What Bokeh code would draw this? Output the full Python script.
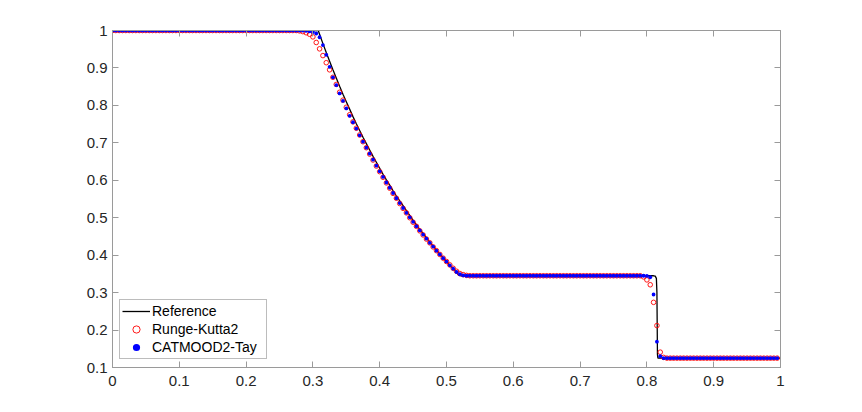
import numpy as np
from bokeh.plotting import figure
from bokeh.models import Range1d, FixedTicker, LinearAxis, Legend, LegendItem
from bokeh.embed import file_html
from bokeh.resources import INLINE

# ---------------- data ----------------
x_grid = np.linspace(0.0, 0.995, 200)   # 200 cells, dx = 0.005

rk2 = [
    1.0, 1.0, 1.0, 1.0, 1.0, 1.0, 1.0, 1.0, 1.0, 1.0,
    1.0, 1.0, 1.0, 1.0, 1.0, 1.0, 1.0, 1.0, 1.0, 1.0,
    1.0, 1.0, 1.0, 1.0, 1.0, 1.0, 1.0, 1.0, 1.0, 1.0,
    1.0, 1.0, 1.0, 1.0, 1.0, 1.0, 1.0, 1.0, 1.0, 1.0,
    1.0, 1.0, 1.0, 1.0, 1.0, 1.0, 1.0, 1.0, 1.0, 1.0,
    1.0, 1.0, 1.0, 1.0, 1.0, 1.0, 0.999, 0.997, 0.994, 0.990,
    0.983, 0.968, 0.951, 0.933, 0.914, 0.895, 0.875, 0.856, 0.835, 0.814,
    0.795, 0.775, 0.756, 0.739, 0.721, 0.703, 0.687, 0.670, 0.654, 0.638,
    0.623, 0.608, 0.593, 0.579, 0.565, 0.552, 0.538, 0.525, 0.513, 0.500,
    0.488, 0.477, 0.465, 0.454, 0.443, 0.433, 0.422, 0.412, 0.402, 0.392,
    0.383, 0.374, 0.365, 0.357, 0.351, 0.348, 0.346, 0.345, 0.345, 0.345,
    0.345, 0.345, 0.345, 0.345, 0.345, 0.345, 0.345, 0.345, 0.345, 0.345,
    0.345, 0.345, 0.345, 0.345, 0.345, 0.345, 0.345, 0.345, 0.345, 0.345,
    0.345, 0.345, 0.345, 0.345, 0.345, 0.345, 0.345, 0.345, 0.345, 0.345,
    0.345, 0.345, 0.345, 0.345, 0.345, 0.345, 0.345, 0.345, 0.345, 0.345,
    0.345, 0.345, 0.345, 0.345, 0.345, 0.345, 0.345, 0.345, 0.345, 0.342,
    0.334, 0.321, 0.274, 0.212, 0.141, 0.127, 0.125, 0.125, 0.125, 0.125,
    0.125, 0.125, 0.125, 0.125, 0.125, 0.125, 0.125, 0.125, 0.125, 0.125,
    0.125, 0.125, 0.125, 0.125, 0.125, 0.125, 0.125, 0.125, 0.125, 0.125,
    0.125, 0.125, 0.125, 0.125, 0.125, 0.125, 0.125, 0.125, 0.125, 0.125,
]

catmood = [
    1.0, 1.0, 1.0, 1.0, 1.0, 1.0, 1.0, 1.0, 1.0, 1.0,
    1.0, 1.0, 1.0, 1.0, 1.0, 1.0, 1.0, 1.0, 1.0, 1.0,
    1.0, 1.0, 1.0, 1.0, 1.0, 1.0, 1.0, 1.0, 1.0, 1.0,
    1.0, 1.0, 1.0, 1.0, 1.0, 1.0, 1.0, 1.0, 1.0, 1.0,
    1.0, 1.0, 1.0, 1.0, 1.0, 1.0, 1.0, 1.0, 1.0, 1.0,
    1.0, 1.0, 1.0, 1.0, 1.0, 1.0, 1.0, 1.0, 0.999, 0.998,
    0.996, 0.992, 0.982, 0.961, 0.935, 0.903, 0.875, 0.854, 0.832, 0.812,
    0.792, 0.772, 0.755, 0.738, 0.720, 0.703, 0.687, 0.671, 0.655, 0.639,
    0.624, 0.609, 0.594, 0.580, 0.566, 0.552, 0.539, 0.526, 0.513, 0.501,
    0.489, 0.477, 0.466, 0.455, 0.444, 0.433, 0.423, 0.412, 0.402, 0.392,
    0.383, 0.373, 0.364, 0.355, 0.349, 0.346, 0.345, 0.345, 0.345, 0.345,
    0.345, 0.345, 0.345, 0.345, 0.345, 0.345, 0.345, 0.345, 0.345, 0.345,
    0.345, 0.345, 0.345, 0.345, 0.345, 0.345, 0.345, 0.345, 0.345, 0.345,
    0.345, 0.345, 0.345, 0.345, 0.345, 0.345, 0.345, 0.345, 0.345, 0.345,
    0.345, 0.345, 0.345, 0.345, 0.345, 0.345, 0.345, 0.345, 0.345, 0.345,
    0.345, 0.345, 0.345, 0.345, 0.345, 0.345, 0.345, 0.345, 0.345, 0.345,
    0.3445, 0.341, 0.295, 0.169, 0.130, 0.125, 0.125, 0.125, 0.125, 0.125,
    0.125, 0.125, 0.125, 0.125, 0.125, 0.125, 0.125, 0.125, 0.125, 0.125,
    0.125, 0.125, 0.125, 0.125, 0.125, 0.125, 0.125, 0.125, 0.125, 0.125,
    0.125, 0.125, 0.125, 0.125, 0.125, 0.125, 0.125, 0.125, 0.125, 0.125,
]

ref_x = [0.0, 0.308,
         0.310, 0.315, 0.320, 0.325, 0.330, 0.335, 0.340, 0.345, 0.350, 0.355,
         0.360, 0.365, 0.370, 0.375, 0.380, 0.385, 0.390, 0.395, 0.400, 0.405,
         0.410, 0.415, 0.420, 0.425, 0.430, 0.435, 0.440, 0.445, 0.450, 0.455,
         0.460, 0.465, 0.470, 0.475, 0.480, 0.485, 0.490, 0.495, 0.500, 0.505,
         0.510, 0.515, 0.518, 0.522,
         0.810, 0.8125, 0.8142, 0.8150, 0.8158, 0.8165, 1.0]
ref_y = [1.0, 1.0,
         0.990, 0.965, 0.941, 0.918, 0.895, 0.873, 0.851, 0.830, 0.810, 0.790,
         0.770, 0.751, 0.733, 0.715, 0.698, 0.681, 0.664, 0.648, 0.632, 0.616,
         0.601, 0.587, 0.572, 0.558, 0.545, 0.532, 0.519, 0.506, 0.493, 0.481,
         0.469, 0.458, 0.446, 0.435, 0.424, 0.414, 0.403, 0.393, 0.383, 0.373,
         0.364, 0.354, 0.347, 0.345,
         0.345, 0.344, 0.338, 0.300, 0.135, 0.125, 0.125]

x_ticks = [0.0, 0.1, 0.2, 0.3, 0.4, 0.5, 0.6, 0.7, 0.8, 0.9, 1.0]
x_labels = ["0", "0.1", "0.2", "0.3", "0.4", "0.5", "0.6", "0.7", "0.8", "0.9", "1"]
y_ticks = [0.1, 0.2, 0.3, 0.4, 0.5, 0.6, 0.7, 0.8, 0.9, 1.0]
y_labels = ["0.1", "0.2", "0.3", "0.4", "0.5", "0.6", "0.7", "0.8", "0.9", "1"]

series_labels = ["Reference", "Runge-Kutta2", "CATMOOD2-Tay"]

# ---------------- figure ----------------
FONT = "Liberation Sans"
AXIS_COLOR = "#9a9a9a"
TEXT_COLOR = "#262626"

p = figure(width=846, height=396,
           x_range=Range1d(0, 1), y_range=Range1d(0.1, 1),
           output_backend="svg", toolbar_location=None,
           min_border_left=112, min_border_right=66,
           min_border_top=30, min_border_bottom=29)
p.grid.visible = False
p.outline_line_color = AXIS_COLOR
p.background_fill_color = "white"
p.border_fill_color = "white"

r_ref = p.line(ref_x, ref_y, line_color="black", line_width=1.3)
r_rk = p.scatter(x_grid, rk2, marker="circle", size=4.6, fill_color=None,
                 line_color="#ff0000", line_width=0.9)
r_cm = p.scatter(x_grid, catmood, marker="circle", size=3.8, fill_color="#0000ff",
                 line_color=None)


def style_axis(ax, ticks, labels, show_labels):
    ax.ticker = FixedTicker(ticks=ticks)
    ax.major_tick_in = 6
    ax.major_tick_out = 0
    ax.minor_tick_line_color = None
    ax.axis_line_color = AXIS_COLOR
    ax.major_tick_line_color = AXIS_COLOR
    ax.axis_line_width = 1
    ax.major_tick_line_width = 1
    if show_labels:
        ax.major_label_overrides = {t: l for t, l in zip(ticks, labels)}
        ax.major_label_text_font = FONT
        ax.major_label_text_font_size = "15px"
        ax.major_label_text_color = TEXT_COLOR
    else:
        ax.major_label_overrides = {t: "" for t in ticks}
        ax.major_label_text_font_size = "0px"
        ax.major_label_standoff = 0


style_axis(p.xaxis[0], x_ticks, x_labels, True)
p.xaxis[0].major_label_standoff = 8
style_axis(p.yaxis[0], y_ticks, y_labels, True)
p.yaxis[0].major_label_standoff = 5

top_ax = LinearAxis()
style_axis(top_ax, x_ticks, x_labels, False)
p.add_layout(top_ax, "above")
right_ax = LinearAxis()
style_axis(right_ax, y_ticks, y_labels, False)
p.add_layout(right_ax, "right")

legend = Legend(items=[LegendItem(label=series_labels[0], renderers=[r_ref]),
                       LegendItem(label=series_labels[1], renderers=[r_rk]),
                       LegendItem(label=series_labels[2], renderers=[r_cm])],
                location=(7, 8))
legend.label_text_font = FONT
legend.label_text_font_size = "14px"
legend.label_text_color = "black"
legend.glyph_width = 28
legend.glyph_height = 18
legend.label_height = 18
legend.label_width = 112
legend.label_standoff = 2
legend.spacing = 0
legend.padding = 2
legend.margin = 0
legend.border_line_color = "#7a7a7a"
legend.border_line_width = 1
legend.background_fill_color = "white"
legend.background_fill_alpha = 1.0
p.add_layout(legend)

open("out.html", "w").write(file_html(p, INLINE))
